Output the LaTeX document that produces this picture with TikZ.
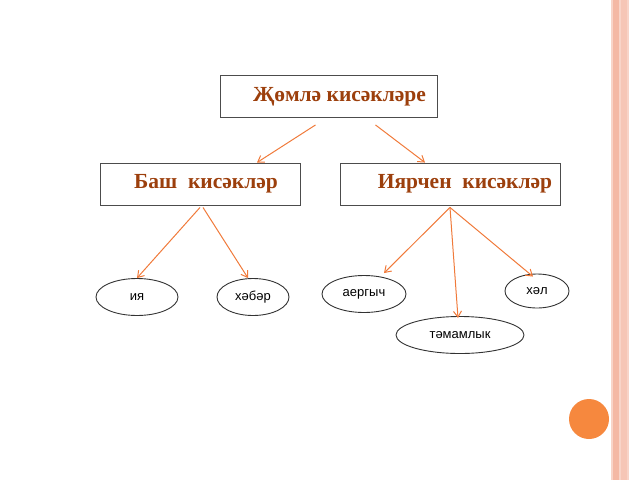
\documentclass[tikz,border=0pt]{standalone}
\usepackage{fontspec}
\setmainfont{Liberation Serif}
\newfontfamily\labelfont{Liberation Sans}
\usetikzlibrary{positioning, arrows.meta, shapes.geometric}
\definecolor{titlebrown}{HTML}{9C3F0C}
\definecolor{arroworange}{HTML}{F07A3A}
\definecolor{stripepink}{HTML}{F4B8A4}
\definecolor{dotorange}{HTML}{F6883E}

\begin{document}
\begin{tikzpicture}[x=1pt,y=-1pt,
    termbox/.style={draw=black!70, line width=0.9pt, minimum height=42pt, font=\bfseries\fontsize{21.5}{24}\selectfont, text=titlebrown},
    partoval/.style={draw=black!80, line width=0.9pt, ellipse, minimum height=37pt, font=\labelfont\fontsize{13}{15}\selectfont},
    link/.style={draw=arroworange, -{Straight Barb[length=6pt,width=8pt]}, line width=1pt},
]
\useasboundingbox (0,0) rectangle (640,480);

% right border stripes
\fill[stripepink!60] (611,0) rectangle (629,480);
\fill[stripepink] (613,0) rectangle (619,480);
\fill[stripepink!80] (621,0) rectangle (627,480);
\fill[dotorange] (589,419) circle (20);

% boxes
\node[termbox, minimum width=217pt] (whole) at (328.5,96.5) {\hspace{22pt}Җөмлә кисәкләре};
\node[termbox, minimum width=200pt] (main) at (200,184) {\hspace{12pt}Баш\ \ кисәкләр};
\node[termbox, minimum width=220pt] (sec) at (450,184) {\hspace{30pt}Иярчен\ \ кисәкләр};

% ovals
\node[partoval, minimum width=82pt] (subj) at (137,297) {ия};
\node[partoval, minimum width=72pt] (pred) at (253,297) {хәбәр};
\node[partoval, minimum width=84pt] (attr) at (364,294) {аергыч};
\node[partoval, minimum width=64pt, minimum height=34pt] (adv) at (537,291) {хәл};
\node[partoval, minimum width=128pt] (obj) at (460,335) {тәмамлык};

% connectors
\draw[link] ([xshift=-13pt,yshift=-7pt]whole.south) -- ([xshift=57pt]main.north);
\draw[link] ([xshift=47pt,yshift=-7pt]whole.south) -- ([xshift=-25pt]sec.north);
\draw[link] ([yshift=-2pt]main.south) -- (subj.north);
\draw[link] ([xshift=3pt,yshift=-2pt]main.south) -- ([xshift=-5pt]pred.north);
\draw[link] ([yshift=-2pt]sec.south) -- ([xshift=20pt,yshift=2pt]attr.north);
\draw[link] ([yshift=-2pt]sec.south) -- ([xshift=-2pt,yshift=-2pt]obj.north);
\draw[link] ([yshift=-2pt]sec.south) -- ([xshift=-4pt,yshift=-3pt]adv.north);
\end{tikzpicture}
\end{document}
